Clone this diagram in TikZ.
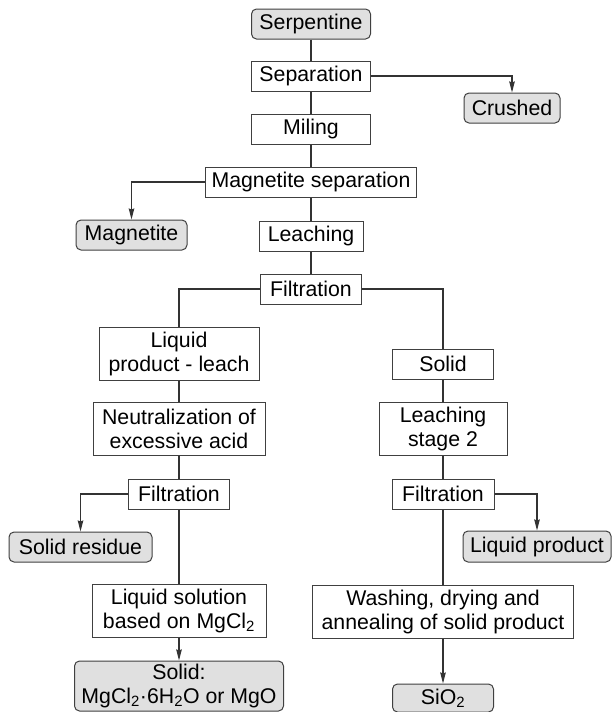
\documentclass[tikz,border=0pt]{standalone}
\usepackage{fontspec}
\setmainfont{Liberation Sans}
\usetikzlibrary{arrows.meta}
\definecolor{boxline}{HTML}{404040}
\definecolor{boxfill}{HTML}{E0E0E0}
\definecolor{conn}{HTML}{333333}
\begin{document}
\begin{tikzpicture}[x=1pt,y=-1pt,
  base/.style={draw=boxline,line width=1pt,inner sep=0pt,align=center,
    font=\fontsize{21.3}{24}\selectfont},
  proc/.style={base,rectangle,fill=white},
  term/.style={base,rectangle,rounded corners=5pt,fill=boxfill},
  link/.style={draw=conn,line width=1.2pt},
  arr/.style={link,-{Stealth[length=11pt,width=5.5pt,inset=1pt]}}]
\useasboundingbox (0,0) rectangle (613,712);
\fill[white] (0,0) rectangle (613,712);
% nodes
\node[term,minimum width=119pt,minimum height=30pt] (serp) at (311,24) {Serpentine};
\node[proc,minimum width=119pt,minimum height=30pt] (sep) at (311,76) {Separation};
\node[term,minimum width=96pt,minimum height=30pt] (crushed) at (512,108) {Crushed};
\node[proc,minimum width=119pt,minimum height=30pt] (mil) at (311,129) {Miling};
\node[proc,minimum width=211pt,minimum height=30pt] (magsep) at (311,182) {Magnetite separation};
\node[term,minimum width=111pt,minimum height=30pt] (magn) at (131.5,235) {Magnetite};
\node[proc,minimum width=104pt,minimum height=30pt] (leach) at (311,236) {Leaching};
\node[proc,minimum width=101pt,minimum height=30pt] (filt1) at (311,289) {Filtration};
\node[proc,minimum width=160pt,minimum height=53pt] (liq) at (179,353.5) {Liquid\\product - leach};
\node[proc,minimum width=172pt,minimum height=53pt] (neut) at (179,428.5) {Neutralization of\\excessive acid};
\node[proc,minimum width=101pt,minimum height=30pt] (solid) at (443,364) {Solid};
\node[proc,minimum width=128pt,minimum height=53pt] (leach2) at (443,428.5) {Leaching\\stage 2};
\node[proc,minimum width=101pt,minimum height=30pt] (filt2) at (179,494) {Filtration};
\node[proc,minimum width=102pt,minimum height=30pt] (filt3) at (443,494) {Filtration};
\node[term,minimum width=143pt,minimum height=30pt] (resid) at (80.5,547) {Solid residue};
\node[term,minimum width=148pt,minimum height=31pt] (liqprod) at (537,546.5) {Liquid product};
\node[proc,minimum width=174pt,minimum height=53pt] (liqsol) at (179,610.5) {Liquid solution\\based on MgCl\textsubscript{2}};
\node[proc,minimum width=261pt,minimum height=53pt] (wash) at (443,611.5) {Washing, drying and\\annealing of solid product};
\node[term,minimum width=209pt,minimum height=50pt] (mgcl) at (179,686) {Solid:\\MgCl\textsubscript{2}·6H\textsubscript{2}O or MgO};
\node[term,minimum width=101pt,minimum height=28pt] (sio) at (443,698) {SiO\textsubscript{2}};
% connectors
\draw[link] (serp) -- (sep);
\draw[link] (sep) -- (mil);
\draw[link] (mil) -- (magsep);
\draw[link] (magsep) -- (leach);
\draw[link] (leach) -- (filt1);
\draw[arr] (sep.east) -| (crushed.north);
\draw[arr] (magsep.west) -| (magn.north);
\draw[link] (filt1.west) -| (liq.north);
\draw[link] (filt1.east) -| (solid.north);
\draw[link] (liq) -- (neut);
\draw[link] (neut) -- (filt2);
\draw[link] (filt2) -- (liqsol);
\draw[arr] (liqsol) -- (mgcl);
\draw[arr] (filt2.west) -| (resid.north);
\draw[link] (solid) -- (leach2);
\draw[link] (leach2) -- (filt3);
\draw[link] (filt3) -- (wash);
\draw[arr] (wash) -- (sio);
\draw[arr] (filt3.east) -| (liqprod.north);
\end{tikzpicture}
\end{document}
